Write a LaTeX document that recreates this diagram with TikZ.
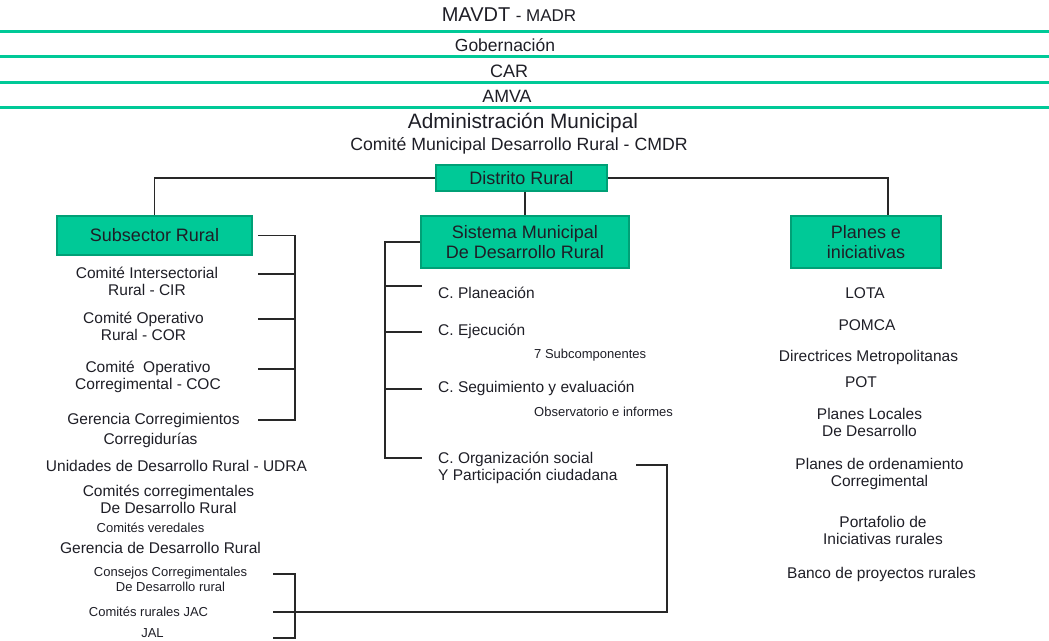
\documentclass[tikz,border=0pt]{standalone}
\usepackage{fontspec}
\setmainfont{Liberation Sans}
\usetikzlibrary{calc}
\definecolor{vgreen}{RGB}{0,201,151}
\definecolor{vgreendark}{RGB}{0,160,118}
\definecolor{txt}{RGB}{30,30,38}
\definecolor{connc}{RGB}{40,40,40}
\newcommand{\fsz}[2]{\fontsize{#1}{#2}\selectfont}
\begin{document}
\begin{tikzpicture}[x=1pt,y=-1pt,
  box/.style={draw=vgreendark, line width=1.4pt, fill=vgreen, inner sep=0pt, align=center, text=txt, font=\fsz{18}{20}},
  lbl/.style={inner sep=0pt, align=center, text=txt, font=\fsz{15.5}{17}},
  lbll/.style={inner sep=0pt, align=left, text=txt, font=\fsz{15.5}{17}},
  small/.style={inner sep=0pt, align=center, text=txt, font=\fsz{13}{15}},
  smalll/.style={inner sep=0pt, align=left, text=txt, font=\fsz{13}{15}},
  gline/.style={draw=vgreen, line width=3pt},
  conn/.style={draw=connc, line width=1.2pt}]
\useasboundingbox (0,0) rectangle (1049,640);

% top hierarchy
\node[inner sep=0pt, text=txt, font=\fsz{20}{22}] (mavdt) at (509,15) {MAVDT {\fsz{17}{19}- MADR}};
\node[inner sep=0pt, text=txt, font=\fsz{17.5}{19}] (gob) at (505,45) {Gobernación};
\node[inner sep=0pt, text=txt, font=\fsz{18}{20}] (car) at (509,71) {CAR};
\node[inner sep=0pt, text=txt, font=\fsz{17.8}{20}] (amva) at (507,96) {AMVA};
\node[inner sep=0pt, text=txt, font=\fsz{20.8}{23}] (adm) at (523,123) {Administración Municipal};
\node[inner sep=0pt, text=txt, font=\fsz{17.7}{20}] (cmdr) at (519,146) {Comité Municipal Desarrollo Rural - CMDR};

\draw[gline] (0,31) -- (1049,31);
\draw[gline] (0,56) -- (1049,56);
\draw[gline] (0,82) -- (1049,82);
\draw[gline] (0,107) -- (1049,107);

% boxes
\node[box, minimum width=171pt, minimum height=26pt] (distrito) at (521.5,178) {Distrito Rural};
\node[box, minimum width=195pt, minimum height=39pt] (sub) at (154.5,235.5) {Subsector Rural};
\node[box, minimum width=208pt, minimum height=52pt] (sis) at (525,242) {Sistema Municipal\\De Desarrollo Rural};
\node[box, minimum width=150pt, minimum height=52pt] (planes) at (866,242) {Planes e\\iniciativas};

\draw[conn] (distrito.west) -| (sub.north);
\draw[conn] (distrito.east) -| ($(planes.north)+(22,0)$);
\draw[conn] (sis.north |- distrito.south) -- (sis.north);

% left column
\node[lbl] (cir) at (147,281.5) {Comité Intersectorial\\Rural - CIR};
\node[lbl] (cor) at (143.5,326.5) {Comité Operativo\\Rural - COR};
\node[lbl] (coc) at (148,377) {Comité~ Operativo\\Corregimental - COC};
\node[lbl] (gc) at (153.5,420) {Gerencia Corregimientos};
\node[lbl] (corr) at (150.5,440) {Corregidurías};
\node[lbl] (udra) at (176.5,466) {Unidades de Desarrollo Rural - UDRA};
\node[lbl] (ccdr) at (168.5,499.5) {Comités corregimentales\\De Desarrollo Rural};
\node[small] (cv) at (150.5,528) {Comités veredales};
\node[lbl] (gdr) at (160.5,548) {Gerencia de Desarrollo Rural};
\node[small] (ccons) at (170.5,579.5) {Consejos Corregimentales\\De Desarrollo rural};
\node[small] (jac) at (148.5,612) {Comités rurales JAC};
\node[small] (jal) at (152.5,633) {JAL};

% subsector bracket
\coordinate (sbx) at (295,0);
\coordinate (t0) at (258,235.5);
\coordinate (t1) at (258,274);
\coordinate (t2) at (258,319);
\coordinate (t3) at (258,369);
\coordinate (t4) at (258,420);
\draw[conn] (t0) -- (t0 -| sbx) -- (t4 -| sbx) -- (t4);
\draw[conn] (t1) -- (t1 -| sbx);
\draw[conn] (t2) -- (t2 -| sbx);
\draw[conn] (t3) -- (t3 -| sbx);

% middle column
\node[lbll, anchor=west] (plan) at (438,293) {C. Planeación};
\node[lbll, anchor=west] (ejec) at (438,331) {C. Ejecución};
\node[smalll, anchor=west] (subc) at (534,355) {7 Subcomponentes};
\node[lbll, anchor=west] (seg) at (438,388) {C. Seguimiento y evaluación};
\node[smalll, anchor=west] (obs) at (534,412) {Observatorio e informes};
\node[lbll, anchor=west] (org) at (438,467.5) {C. Organización social\\Y Participación ciudadana};

\coordinate (mbx) at (385,0);
\coordinate (m1) at (422,286);
\coordinate (m2) at (422,332);
\coordinate (m3) at (422,389);
\coordinate (m4) at (422,458);
\draw[conn] (sis.west) -| (m4 -| mbx) -- (m4);
\draw[conn] (m1 -| mbx) -- (m1);
\draw[conn] (m2 -| mbx) -- (m2);
\draw[conn] (m3 -| mbx) -- (m3);

% organizacion -> JAC
\coordinate (o1) at (636,465);
\coordinate (ox) at (667,0);
\coordinate (bt) at (273,0);
\draw[conn] (o1) -| (ox |- jac) -- (jac -| bt);

% bottom bracket
\coordinate (bbx) at (295,0);
\coordinate (b1) at (273,574);
\coordinate (b3) at (273,638);
\draw[conn] (b1) -- (b1 -| bbx) -- (b3 -| bbx) -- (b3);

% right column
\node[lbl] (lota) at (865,293) {LOTA};
\node[lbl] (pomca) at (867,325) {POMCA};
\node[lbl] (dir) at (868.5,357) {Directrices Metropolitanas};
\node[lbl] (pot) at (861,382) {POT};
\node[lbl] (plocal) at (869.5,422) {Planes Locales\\De Desarrollo};
\node[lbl] (pord) at (879.5,473.5) {Planes de ordenamiento\\Corregimental};
\node[lbl] (port) at (883,530.5) {Portafolio de\\Iniciativas rurales};
\node[lbl] (banco) at (881.5,574) {Banco de proyectos rurales};
\end{tikzpicture}
\end{document}
